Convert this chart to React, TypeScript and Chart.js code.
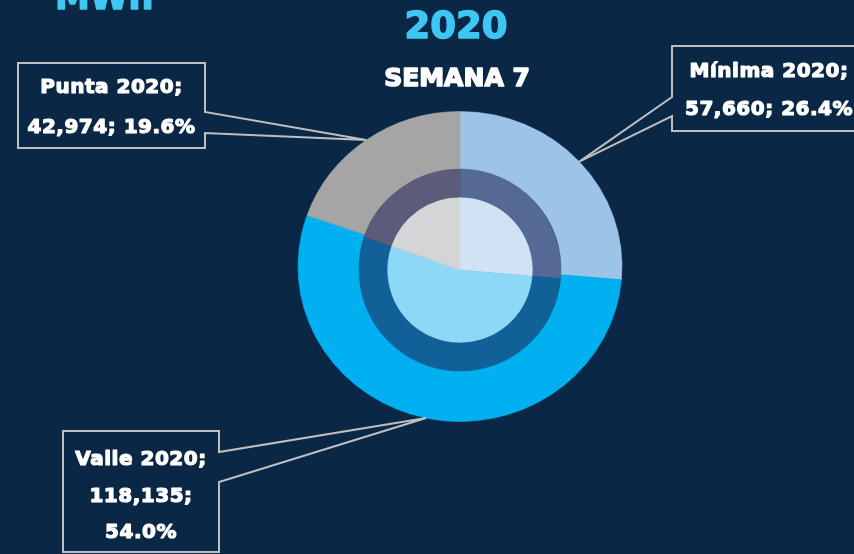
import React, { useEffect, useRef } from 'react';
import { Chart, registerables } from 'chart.js';

Chart.register(...registerables);

// ---- data ----
const categories = ['Mínima 2020', 'Valle 2020', 'Punta 2020'];
const values = [57660, 118135, 42974];
const titleText = '2020';
const subtitleText = 'SEMANA 7';
const unitText = 'MWh';

// ---- styles ----
const BG = '#0b2746';
const TITLE_BLUE = '#3ec6f4';
const outerColors = ['#9dc3e6', '#00b0f0', '#a5a5a5'];
const ringColors = ['#546a94', '#116098', '#5b5c7a'];
const innerColors = ['#d0e2f4', '#8cd8f6', '#d4d5d7'];
const BOX_STROKE = '#bfbfbf';

const W = 854;
const H = 554;
const CX = 460;
const CY = 270;
const R_OUTER = 162;
const R_RING = 101;
const R_INNER = 73;
const SY = 155 / 162; // outer pie is slightly elliptical
const SHIFT = -3.5;

// callout layout (box: x1,y1,x2,y2; pointer attach y's on the side facing the pie)
const calloutLayout = [
  { box: [672, 46, 866, 131], side: 'left', ptr: [97, 116], wrap: false, lineY: [77, 115] },
  { box: [63, 431, 219, 552], side: 'right', ptr: [452, 482], wrap: true, lineY: [465, 502, 538] },
  { box: [18, 63, 205, 148], side: 'right', ptr: [112, 133], wrap: false, lineY: [93, 133] },
];

const fmt = (n: number) => n.toLocaleString('en-US');

function labelLines(i: number): string[] {
  const total = values.reduce((a, b) => a + b, 0);
  const pct = ((values[i] / total) * 100).toFixed(1) + '%';
  const name = categories[i] + ';';
  if (calloutLayout[i].wrap) return [name, fmt(values[i]) + ';', pct];
  return [name, fmt(values[i]) + '; ' + pct];
}

function heavyText(ctx: CanvasRenderingContext2D, t: string, x: number, y: number, color: string, w: number) {
  ctx.fillStyle = color;
  ctx.strokeStyle = color;
  ctx.lineWidth = w;
  ctx.lineJoin = 'round';
  ctx.strokeText(t, x, y);
  ctx.fillText(t, x, y);
}

const ellipsePlugin = {
  id: 'ellipseOuter',
  beforeDraw(chart: any) {
    const ctx = chart.ctx;
    ctx.save();
    ctx.fillStyle = BG;
    ctx.fillRect(0, 0, chart.width, chart.height);
    ctx.restore();
  },
  beforeDatasetDraw(chart: any, args: any) {
    if (args.index !== 0) return;
    const ctx = chart.ctx;
    const arc = chart.getDatasetMeta(0).data[0];
    const cx = arc.x;
    const cy = arc.y;
    ctx.save();
    ctx.translate(cx, cy + SHIFT);
    ctx.scale(1, SY);
    ctx.translate(-cx, -cy);
  },
  afterDatasetDraw(chart: any, args: any) {
    if (args.index !== 0) return;
    chart.ctx.restore();
  },
  afterDraw(chart: any) {
    const ctx = chart.ctx;
    ctx.save();
    // titles
    ctx.textBaseline = 'alphabetic';
    ctx.font = 'bold 35px "DejaVu Sans"';
    ctx.textAlign = 'left';
    heavyText(ctx, unitText, 55, 9, TITLE_BLUE, 1.5);
    ctx.font = 'bold 37px "DejaVu Sans"';
    ctx.textAlign = 'center';
    heavyText(ctx, titleText, 456, 38, TITLE_BLUE, 1.5);
    ctx.font = 'bold 25px "DejaVu Sans"';
    heavyText(ctx, subtitleText, 457, 86, '#ffffff', 1.6);

    // callouts
    const meta = chart.getDatasetMeta(0);
    meta.data.forEach((arc: any, i: number) => {
      const p = arc.getProps(['x', 'y', 'startAngle', 'endAngle', 'outerRadius'], true);
      const mid = (p.startAngle + p.endAngle) / 2;
      const ax = p.x + Math.cos(mid) * p.outerRadius;
      const ayRaw = p.y + Math.sin(mid) * p.outerRadius;
      const ay = p.y + SHIFT + (ayRaw - p.y) * SY;
      const L = calloutLayout[i];
      const [x1, y1, x2, y2] = L.box;
      ctx.beginPath();
      if (L.side === 'right') {
        ctx.moveTo(x1, y1);
        ctx.lineTo(x2, y1);
        ctx.lineTo(x2, L.ptr[0]);
        ctx.lineTo(ax, ay);
        ctx.lineTo(x2, L.ptr[1]);
        ctx.lineTo(x2, y2);
        ctx.lineTo(x1, y2);
        ctx.closePath();
      } else {
        ctx.moveTo(x1, y1);
        ctx.lineTo(x2, y1);
        ctx.lineTo(x2, y2);
        ctx.lineTo(x1, y2);
        ctx.lineTo(x1, L.ptr[1]);
        ctx.lineTo(ax, ay);
        ctx.lineTo(x1, L.ptr[0]);
        ctx.closePath();
      }
      ctx.fillStyle = BG;
      ctx.fill();
      ctx.lineWidth = 2;
      ctx.strokeStyle = BOX_STROKE;
      ctx.lineJoin = 'miter';
      ctx.stroke();

      const lines = labelLines(i);
      ctx.font = 'bold 20px "DejaVu Sans"';
      (ctx as any).letterSpacing = '0.5px';
      ctx.textAlign = 'center';
      const tx = (x1 + Math.min(x2, W + 12)) / 2;
      lines.forEach((ln, k) => heavyText(ctx, ln, tx, L.lineY[k], '#ffffff', 1.2));
      (ctx as any).letterSpacing = '0px';
    });
    ctx.restore();
  },
};

export default function App() {
  const ref = useRef<HTMLCanvasElement | null>(null);
  useEffect(() => {
    document.body.style.margin = '0';
    document.body.style.background = BG;
    if (!ref.current) return;
    const chart = new Chart(ref.current, {
      type: 'doughnut',
      data: {
        labels: categories,
        datasets: [
          { data: values, backgroundColor: outerColors, borderColor: outerColors, borderWidth: 0.6, weight: R_OUTER - R_RING, order: 1 } as any,
          { data: values, backgroundColor: ringColors, borderColor: ringColors, borderWidth: 0.6, weight: R_RING - R_INNER, order: 0 } as any,
          { data: values, backgroundColor: innerColors, borderColor: innerColors, borderWidth: 0.6, weight: R_INNER, order: 0 } as any,
        ],
      },
      options: {
        responsive: false,
        animation: false,
        radius: R_OUTER,
        cutout: 0,
        rotation: 0,
        layout: { padding: { left: (CX - W / 2) * 2, right: 0, top: 0, bottom: (H / 2 - CY) * 2 } },
        plugins: { legend: { display: false }, tooltip: { enabled: false } },
        events: [],
      } as any,
      plugins: [ellipsePlugin],
    });
    return () => chart.destroy();
  }, []);
  return (
    <div style={{ position: 'absolute', left: 0, top: 0, width: W, height: H, background: BG }}>
      <canvas ref={ref} width={W} height={H} style={{ width: W, height: H, display: 'block' }} />
    </div>
  );
}
